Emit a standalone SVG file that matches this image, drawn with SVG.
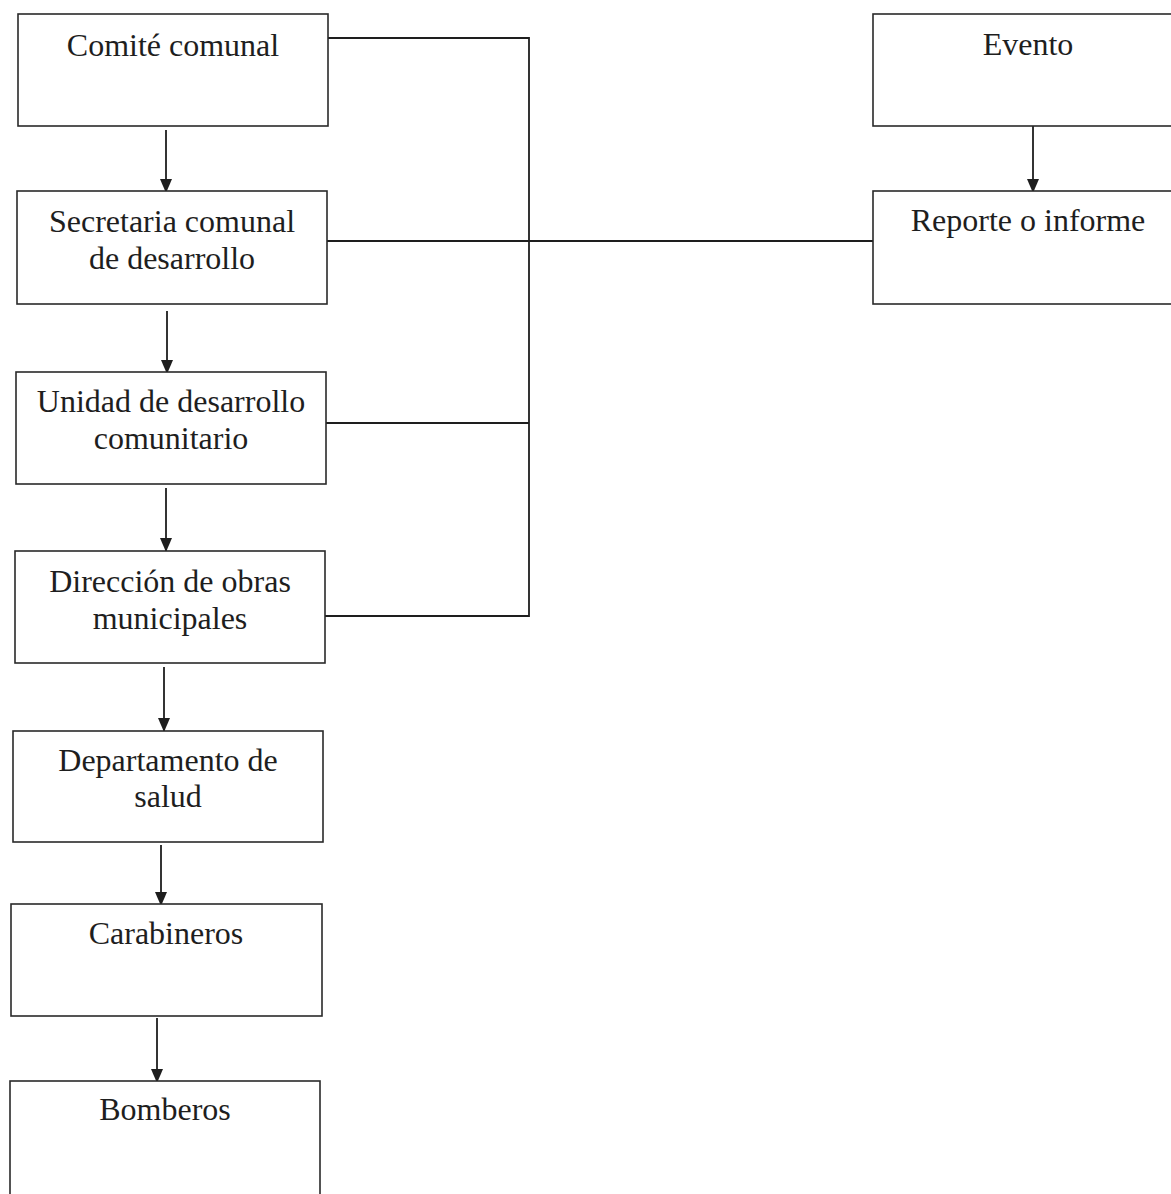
<svg xmlns="http://www.w3.org/2000/svg" width="1171" height="1194" viewBox="0 0 1171 1194">
<style>
.box{fill:#fff;stroke:#2a2a2a;stroke-width:1.6}
.lbl{font-family:"Liberation Serif","Times New Roman",serif;font-size:32px;fill:#1e1e1e;text-anchor:middle}
.ln{fill:none;stroke:#1e1e1e;stroke-width:1.8}
</style>
<defs>
<marker id="ah" viewBox="0 0 14 12" refX="14" refY="6" markerWidth="14" markerHeight="12" markerUnits="userSpaceOnUse" orient="auto">
<path d="M0,0 L14,6 L0,12 z" fill="#1e1e1e"/>
</marker>
</defs>
<rect width="1171" height="1194" fill="#fff"/>
<g id="connectors">
<path class="ln" d="M328,38 H529 V616 H325"/>
<path class="ln" d="M327,241 H873"/>
<path class="ln" d="M326,423 H529"/>
<line class="ln" x1="166" y1="130" x2="166" y2="193" marker-end="url(#ah)"/>
<line class="ln" x1="167" y1="311" x2="167" y2="374" marker-end="url(#ah)"/>
<line class="ln" x1="166" y1="488" x2="166" y2="552" marker-end="url(#ah)"/>
<line class="ln" x1="164" y1="667" x2="164" y2="732" marker-end="url(#ah)"/>
<line class="ln" x1="161" y1="845" x2="161" y2="906" marker-end="url(#ah)"/>
<line class="ln" x1="157" y1="1018" x2="157" y2="1083" marker-end="url(#ah)"/>
<line class="ln" x1="1033" y1="126" x2="1033" y2="193" marker-end="url(#ah)"/>
</g>
<g id="comite"><rect class="box" x="18" y="14" width="310" height="112"/><text class="lbl" x="173" y="56">Comité comunal</text></g>
<g id="secretaria"><rect class="box" x="17" y="191" width="310" height="113"/><text class="lbl" x="172" y="232">Secretaria comunal</text><text class="lbl" x="172" y="269">de desarrollo</text></g>
<g id="unidad"><rect class="box" x="16" y="372" width="310" height="112"/><text class="lbl" x="171" y="412">Unidad de desarrollo</text><text class="lbl" x="171" y="449">comunitario</text></g>
<g id="direccion"><rect class="box" x="15" y="551" width="310" height="112"/><text class="lbl" x="170" y="592">Dirección de obras</text><text class="lbl" x="170" y="629">municipales</text></g>
<g id="departamento"><rect class="box" x="13" y="731" width="310" height="111"/><text class="lbl" x="168" y="771">Departamento de</text><text class="lbl" x="168" y="807">salud</text></g>
<g id="carabineros"><rect class="box" x="11" y="904" width="311" height="112"/><text class="lbl" x="166" y="944">Carabineros</text></g>
<g id="bomberos"><rect class="box" x="10" y="1081" width="310" height="130"/><text class="lbl" x="165" y="1120">Bomberos</text></g>
<g id="evento"><rect class="box" x="873" y="14" width="310" height="112"/><text class="lbl" x="1028" y="55">Evento</text></g>
<g id="reporte"><rect class="box" x="873" y="191" width="310" height="113"/><text class="lbl" x="1028" y="231">Reporte o informe</text></g>
</svg>
